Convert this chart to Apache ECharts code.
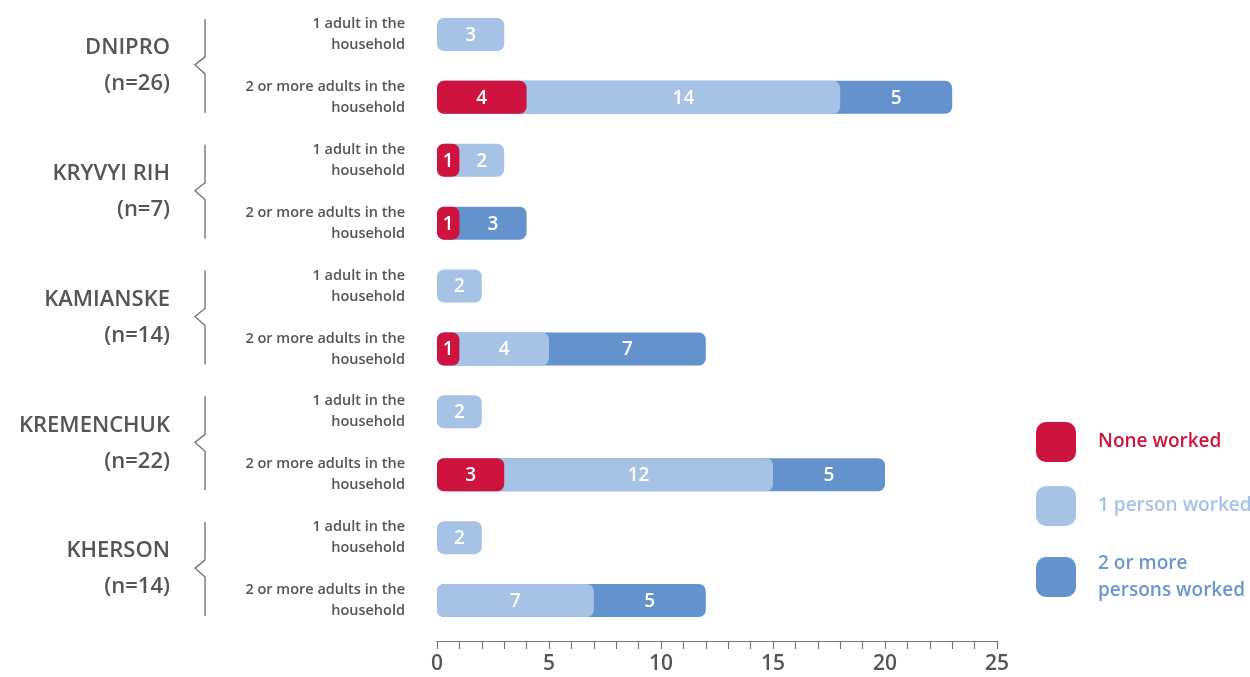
<!DOCTYPE html>
<html>
<head>
<meta charset="utf-8">
<script src="https://cdn.jsdelivr.net/npm/echarts@6/dist/echarts.min.js"></script>
<style>html,body{margin:0;padding:0;background:#fff}#c{width:1250px;height:677px}</style>
</head>
<body>
<div id="c"></div>
<script>
const cities = ['DNIPRO', 'KRYVYI RIH', 'KAMIANSKE', 'KREMENCHUK', 'KHERSON'];
const cityN = [26, 7, 14, 22, 14];
const rowLabels = ['1 adult in the\nhousehold', '2 or more adults in the\nhousehold'];
const noneWorked = [0, 4, 1, 1, 0, 1, 0, 3, 0, 0];
const onePerson  = [3, 14, 2, 0, 2, 4, 2, 12, 2, 7];
const twoPlus    = [0, 5, 0, 3, 0, 7, 0, 5, 0, 5];
const seriesNames = ['None worked', '1 person worked', '2 or more persons worked'];
const colors = ['#CD133E', '#A6C3E6', '#6492CD'];
const legendText = ['#CD133E', '#A6C3E6', '#6A97D0'];
const xTicks = [0, 5, 10, 15, 20, 25];

const rowKeys = [];
cities.forEach((c, i) => { rowKeys.push(c + '|0'); rowKeys.push(c + '|1'); });

const font = '"Open Sans", Lato, sans-serif';
const valueArrays = [noneWorked, onePerson, twoPlus];

function segData(k) {
  const out = [];
  for (let r = 0; r < rowKeys.length; r++) {
    let start = 0;
    for (let j = 0; j < k; j++) start += valueArrays[j][r];
    const v = valueArrays[k][r];
    if (v > 0) out.push([r, start, start + v, v]);
  }
  return out;
}

function makeRender(k) {
  return function (params, api) {
    const row = api.value(0), start = api.value(1), end = api.value(2), v = api.value(3);
    const p0 = api.coord([0, row]);
    const p1 = api.coord([end, row]);
    const pc = api.coord([(start + end) / 2, row]);
    const h = 33;
    return {
      type: 'group',
      children: [
        { type: 'rect', shape: { x: p0[0], y: p0[1] - h / 2, width: p1[0] - p0[0], height: h, r: 7 },
          style: { fill: colors[k] } },
        { type: 'text', x: pc[0], y: pc[1] + 1,
          style: { text: String(v), fill: '#fff', fontSize: 19, fontWeight: 600, fontFamily: font,
                   align: 'center', verticalAlign: 'middle' } }
      ]
    };
  };
}

const series = [];
[2, 1, 0].forEach(k => {
  series.push({
    type: 'custom', name: seriesNames[k], z: 2 + (2 - k),
    renderItem: makeRender(k),
    itemStyle: { color: colors[k] },
    encode: { x: [1, 2], y: 0 },
    data: segData(k)
  });
});
series.push({
  type: 'custom', yAxisIndex: 1, silent: true, clip: false,
  renderItem: function (params, api) {
    const p = api.coord([0, api.value(1)]);
    const x = p[0] - 232, cy = p[1];
    return { type: 'polyline',
      shape: { points: [[x, cy - 47], [x, cy - 9], [x - 10, cy - 1], [x, cy + 8], [x, cy + 47]] },
      style: { stroke: '#777', lineWidth: 1.4, fill: null } };
  },
  encode: { x: 0, y: 1 },
  data: cities.map((c, i) => [0, i])
});

const chart = echarts.init(document.getElementById('c'));
chart.setOption({
  animation: false,
  backgroundColor: '#fff',
  grid: { left: 437, right: 253, top: 3, height: 629 },
  legend: {
    orient: 'vertical', left: 1031, top: 417, itemWidth: 40, itemHeight: 40, itemGap: 24,
    icon: 'roundRect', selectedMode: false,
    data: seriesNames.map((n, i) => ({
      name: n,
      textStyle: { color: legendText[i] }
    })),
    formatter: n => n === '2 or more persons worked' ? '2 or more\npersons worked' : n,
    textStyle: { fontSize: 19, fontWeight: 600, fontFamily: font, lineHeight: 27, padding: [0, 0, 0, 17] }
  },
  xAxis: {
    type: 'value', min: 0, max: 25, interval: 5, offset: 9,
    splitLine: { show: false },
    axisLine: { show: true, lineStyle: { color: '#777', width: 1.2 } },
    axisTick: { show: true, length: 8, lineStyle: { color: '#777', width: 1.2 } },
    minorTick: { show: true, splitNumber: 5, length: 8, lineStyle: { color: '#777', width: 1.2 } },
    axisLabel: { fontSize: 21, fontWeight: 600, color: '#555', fontFamily: font, margin: 13,
      formatter: v => xTicks.includes(v) ? String(v) : '' }
  },
  yAxis: [
    {
      type: 'category', inverse: true, data: rowKeys,
      axisLine: { show: false }, axisTick: { show: false },
      axisLabel: { margin: 32, fontSize: 14.5, fontWeight: 600, color: '#555', fontFamily: font,
        lineHeight: 21, align: 'right',
        formatter: v => rowLabels[Number(v.split('|')[1])] }
    },
    {
      type: 'category', inverse: true, position: 'left', offset: 260,
      data: cities,
      axisLine: { show: false }, axisTick: { show: false },
      axisLabel: { margin: 7, fontSize: 22, fontWeight: 600, color: '#555', fontFamily: font,
        lineHeight: 36, align: 'right',
        formatter: (v, i) => v + '\n(n=' + cityN[cities.indexOf(v)] + ')' }
    }
  ],
  series: series
});
</script>
</body>
</html>
